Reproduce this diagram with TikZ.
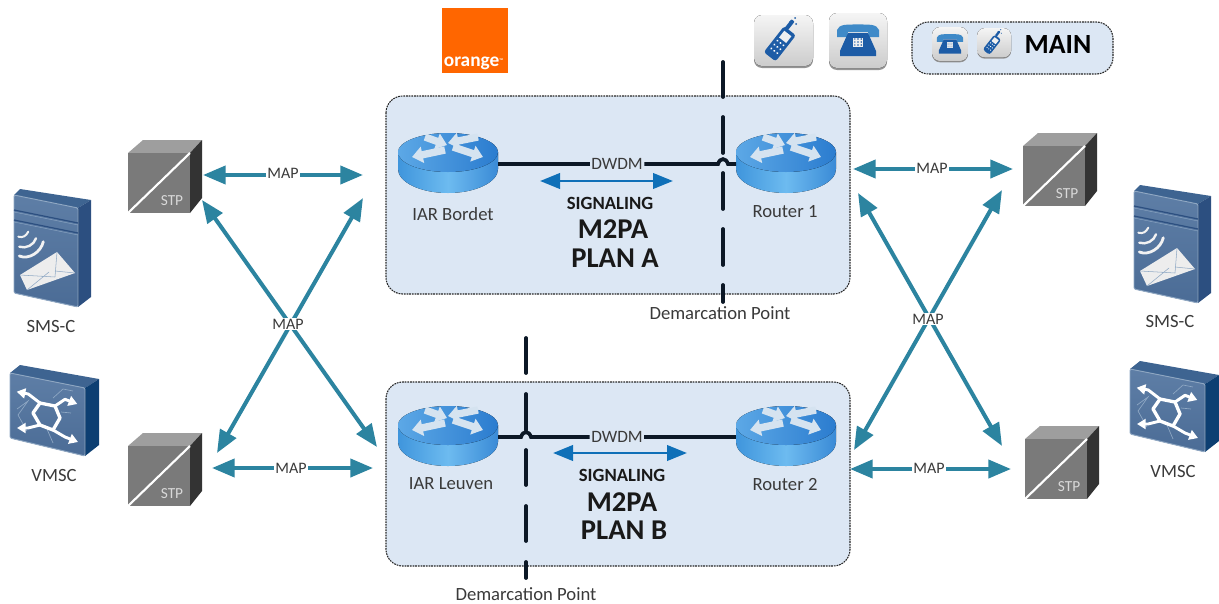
\documentclass[tikz,border=0pt]{standalone}
\usepackage{fontspec}
\setmainfont{Carlito}
\usetikzlibrary{arrows.meta}
\definecolor{panelblue}{HTML}{DCE7F4}
\definecolor{mapteal}{HTML}{2C84A0}
\definecolor{sigblue}{HTML}{0F70B8}
\definecolor{ink}{HTML}{0C1826}
\definecolor{lbl}{HTML}{3A3A3A}
\definecolor{phoneblue}{HTML}{1D5CA6}
\definecolor{devtop}{HTML}{3E6491}
\definecolor{devside}{HTML}{2C4F80}
\definecolor{vmside}{HTML}{0D3F72}
\definecolor{devfa}{HTML}{5E7EA6}
\definecolor{devfb}{HTML}{4B6C96}
\definecolor{devedge}{HTML}{8FA8C4}
\definecolor{routa}{HTML}{3F95DC}
\definecolor{routb}{HTML}{3A8AD6}
\definecolor{routc}{HTML}{6DBBF0}
\definecolor{routd}{HTML}{5CA8E6}
\definecolor{route}{HTML}{2B7CCF}
\definecolor{routf}{HTML}{D5E3F0}
\definecolor{handset}{HTML}{3F8AC8}
\definecolor{orangebrand}{HTML}{FF6600}
\newcommand{\fs}[1]{\fontsize{#1}{#1}\selectfont}
\tikzset{
  panel/.style={draw=black!85,line width=.8pt,dash pattern=on 1.3pt off .7pt,fill=panelblue,rounded corners=12.5pt},
  maparrow/.style={mapteal,line width=3pt,{Triangle[length=17pt,width=13.5pt]}-{Triangle[length=17pt,width=13.5pt]}},
  sigarrow/.style={sigblue,line width=2.2pt,{Triangle[length=15pt,width=11.5pt]}-{Triangle[length=15pt,width=11.5pt]}},
  demarc/.style={ink,line width=2.8pt,line cap=round},
  dwdmline/.style={ink,line width=2.8pt},
  maplabel/.style={fill=white,inner xsep=1pt,inner ysep=1pt,text=lbl,font=\fs{12}},
  dwdmlabel/.style={fill=panelblue,inner xsep=1pt,inner ysep=.5pt,text=lbl,font=\fs{13}},
  devlabel/.style={text=lbl,font=\fs{14},inner sep=0pt},
  siglabel/.style={text=black!90,font=\bfseries\fs{14},inner sep=0pt},
  planlabel/.style={text=black!90,font=\bfseries\fs{21.5},inner sep=0pt},
  tile/.style={top color=black!4,bottom color=black!20,rounded corners=6pt},
  stpicon/.pic={
    \fill[black!38] (0,13)--(15,0)--(74,0)--(62,13)--cycle;
    \fill[black!80] (62,13)--(74,0)--(74,58)--(62,73)--cycle;
    \fill[black!52] (0,13) rectangle (62,73);
    \draw[white,line width=1.6pt] (0,73)--(62,13);
    \node[text=black!15,font=\fs{11.5},inner sep=0pt] at (44,61) {STP};
  },
  smsicon/.pic={
    \fill[devtop] (1,6)--(7,0)--(78,11)--(65,19)--cycle;
    \fill[devside] (65,19)--(78,11)--(78,108)--(65,118)--cycle;
    \fill[top color=devfa,bottom color=devfb,draw=devedge,line width=.7pt,rounded corners=1pt] (1,6)--(65,19)--(65,118)--(1,104)--cycle;
    \draw[devside,line width=.9pt] (1,21)--(65,34) (1,31)--(65,44);
    \draw[devedge,line width=.3pt] (1,23)--(65,36) (1,33)--(65,46);
    \draw[black!5,line width=1.5pt,line cap=round] (5.3,47.7) .. controls (10,49) and (13,47) .. (15.3,42.7);
    \draw[black!5,line width=1.8pt,line cap=round] (6.3,57.7) .. controls (13,60) and (21,56) .. (23,49.3);
    \draw[black!5,line width=2.1pt,line cap=round] (6.3,67) .. controls (16,71) and (28,63) .. (30.3,52.7);
    \fill[black!7] (7,86)--(44,63)--(62,84)--(14,101)--cycle;
    \draw[devedge,line width=.4pt] (7,86)--(42,88) (44,63)--(42,88) (14,101)--(36,83) (62,84)--(42,82);
  },
  vmscicon/.pic={
    \fill[devtop] (1,8)--(11,0)--(90,14)--(76,23)--cycle;
    \fill[vmside] (76,23)--(90,14)--(90,80)--(76,91)--cycle;
    \fill[top color=devfa,bottom color=devfb,draw=devedge,line width=.7pt,rounded corners=1pt] (1,8)--(76,23)--(76,91)--(1,73)--cycle;
    \draw[devedge,line width=.5pt] (44,33)--(54,24)--(64,26) (8,44)--(19,36)--(9,50)--(18,66) (38,64)--(44,78) (52,47)--(62,48);
    \draw[white,line width=2.5pt,line join=round] (24,48)--(31,38)--(46,41)--(51,53)--(44,65)--(31,60)--cycle;
    \tikzset{whitearrow/.style={white,line width=2.2pt,line join=round,-{Triangle[length=6.5pt,width=7.5pt]}}}
    \draw[whitearrow] (31,38)--(19.3,29)--(7.7,26.7);
    \draw[whitearrow] (46,41)--(56,34.3)--(68.3,39);
    \draw[whitearrow] (31,60)--(19,63)--(8,63);
    \draw[whitearrow] (44,65)--(56,72)--(69,77);
  },
  routericon/.pic={
    \fill[left color=routa,right color=routb,middle color=routc] (0,19) -- (0,36) .. controls (0,49) and (22,60) .. (50,60) .. controls (78,60) and (100,49) .. (100,36) -- (100,19) -- cycle;
    \fill[left color=routd,right color=route] (0,19) .. controls (0,9) and (22,0) .. (50,0) .. controls (78,0) and (100,9) .. (100,19) .. controls (100,30) and (78,39) .. (50,39) .. controls (22,39) and (0,30) .. (0,19) -- cycle;
    \tikzset{pale/.style={routf,line width=5.5pt,-{Triangle[length=8pt,width=12pt]}}}
    \draw[pale] (27,4)--(49,12);
    \draw[pale] (47,17)--(14,24);
    \draw[pale] (80,4)--(50,10);
    \draw[pale] (55,14)--(85,24);
    \coordinate (-e) at (100,31);
    \coordinate (-w) at (0,31);
  },
  mobileicon/.pic={
    \fill[black!42,rounded corners=6pt] (0,2) rectangle (59,53);
    \fill[tile] (0,0) rectangle (59,51);
    \begin{scope}[shift={(28,26)},rotate=-38]
      \fill[phoneblue,rounded corners=2pt] (-7.5,-13)--(7.5,-13)--(7.5,20)--(-7.5,20)--cycle;
      \fill[phoneblue,rounded corners=.6pt] (-6,-23)--(-2,-23)--(-2,-12)--(-6,-12)--cycle;
      \fill[black!6] (-4.5,-9.5) rectangle (4.5,-1);
      \foreach \r in {2.5,7.5,12.5}\foreach \c in {-3.8,0,3.8}{\fill[white] (\c,\r) circle[radius=1.1];}
    \end{scope}
    \fill[phoneblue] (36,7) circle[radius=1] (41,3) circle[radius=1] (42,9) circle[radius=1];
  },
  deskicon/.pic={
    \fill[black!42,rounded corners=6pt] (0,2) rectangle (58,57);
    \fill[tile] (0,0) rectangle (58,55);
    \fill[handset] (8,17) .. controls (10,11) and (18,11.5) .. (29,11.5) .. controls (40,11.5) and (48,11) .. (50,17) -- (50,24) -- (40,24) -- (39,19) -- (19,19) -- (18,24) -- (8,24) --cycle;
    \fill[phoneblue] (19,20)--(39,20)--(47,38)--(47,43)--(11,43)--(11,38)--cycle;
    \fill[black!6] (24,24.5) rectangle (34,33.5);
    \foreach \r in {26,29,32}\foreach \c in {25.8,29,32.2}{\fill[phoneblue] (\c,\r) circle[radius=.8];}
  },
}
\begin{document}
\begin{tikzpicture}[x=.75pt,y=-.75pt,>=Triangle]
\useasboundingbox (0,0) rectangle (1219,603);
\fill[white] (0,0) rectangle (1219,603);

% panels
\path[panel] (386,96) rectangle (850,294);
\path[panel] (386,382) rectangle (850,566);
\path[panel] (912,22) rectangle (1113,74);

% demarcation lines
\draw[demarc] (723,62)--(723,97) (723,117)--(723,153) (723,173)--(723,209) (723,229)--(723,265) (723,285)--(723,302);
\draw[demarc] (526,338)--(526,373) (526,394)--(526,430) (526,450)--(526,485) (526,506)--(526,541) (526,562)--(526,578);

% orange logo
\fill[orangebrand] (442,8) rectangle (508,73);
\node[text=white,font=\bfseries\fs{14.5},inner sep=0pt] (orangelogo) at (473.5,63) {orange\raisebox{3pt}{\fs{4}™}};

% icons
\pic at (754,15) {mobileicon};
\pic at (829,13) {deskicon};
\pic[scale=.62] at (932,27) {deskicon};
\pic[scale=.58] at (977,28) {mobileicon};
\node[text=black,font=\bfseries\fs{20.8},inner sep=0pt] (mainlabel) at (1058,45) {MAIN};

% routers
\pic (bordet) at (398,133) {routericon};
\pic (router1) at (736,133) {routericon};
\pic (leuven) at (398,406) {routericon};
\pic (router2) at (736,406) {routericon};

% DWDM
\node[dwdmlabel] (dwdmA) at (617,164) {DWDM};
\node[dwdmlabel] (dwdmB) at (617,437) {DWDM};
\coordinate (hopAl) at (718,164);
\coordinate (hopAr) at (728,164);
\coordinate (hopBl) at (521,437);
\coordinate (hopBr) at (531,437);
\draw[dwdmline] (bordet-e) -- (dwdmA);
\draw[dwdmline] (dwdmA) -- (hopAl) .. controls (720,157.5) and (726,157.5) .. (hopAr) -- (router1-w);
\draw[dwdmline] (leuven-e) -- (hopBl) .. controls (523,430.5) and (529,430.5) .. (hopBr) -- (dwdmB);
\draw[dwdmline] (dwdmB) -- (router2-w);

% signaling
\coordinate (sigAl) at (540,181);
\coordinate (sigAr) at (673,181);
\coordinate (sigBl) at (553,453);
\coordinate (sigBr) at (687,453);
\draw[sigarrow] (sigAl) -- (sigAr);
\draw[sigarrow] (sigBl) -- (sigBr);
\node[siglabel] (sA) at (610,203) {SIGNALING};
\node[planlabel] (mA) at (613,229) {M2PA};
\node[planlabel] (pA) at (615,258) {PLAN A};
\node[siglabel] (sB) at (622,475) {SIGNALING};
\node[planlabel] (mB) at (622,502) {M2PA};
\node[planlabel] (pB) at (624,530) {PLAN B};

% device labels
\node[devlabel] (lbor) at (453,214) {IAR Bordet};
\node[devlabel] (lr1) at (785,212) {Router 1};
\node[devlabel] (lleu) at (451,484) {IAR Leuven};
\node[devlabel] (lr2) at (785,485) {Router 2};
\node[devlabel] (dmA) at (720,313) {Demarcation Point};
\node[devlabel] (dmB) at (526,594) {Demarcation Point};

% STP
\pic at (128,140) {stpicon};
\pic at (128,433) {stpicon};
\pic at (1023,133) {stpicon};
\pic at (1025,426) {stpicon};

% SMS-C / VMSC
\pic at (13,189) {smsicon};
\pic at (1133,185) {smsicon};
\pic at (9,365) {vmscicon};
\pic at (1129,361) {vmscicon};
\node[devlabel] (ls1) at (51,327) {SMS-C};
\node[devlabel] (lv1) at (54,475) {VMSC};
\node[devlabel] (ls2) at (1170,322) {SMS-C};
\node[devlabel] (lv2) at (1173,471) {VMSC};

% left arrows
\coordinate (a1) at (203,175); \coordinate (a2) at (363,175);
\coordinate (a3) at (212,468); \coordinate (a4) at (373,468);
\coordinate (a5) at (202,200); \coordinate (a6) at (377,447);
\coordinate (a7) at (363,198); \coordinate (a8) at (217,453);
\draw[maparrow] (a1) -- (a2);
\draw[maparrow] (a3) -- (a4);
\draw[maparrow] (a5) -- (a6);
\draw[maparrow] (a7) -- (a8);
\node[maplabel] (m1) at (283,173) {MAP};
\node[maplabel] (m2) at (291,468) {MAP};
\node[maplabel] (m3) at (288,324) {MAP};

% right arrows
\coordinate (b1) at (853,169); \coordinate (b2) at (1013,169);
\coordinate (b3) at (850,469); \coordinate (b4) at (1011,469);
\coordinate (b5) at (858,193); \coordinate (b6) at (1002,446);
\coordinate (b7) at (1002,190); \coordinate (b8) at (854,450);
\draw[maparrow] (b1) -- (b2);
\draw[maparrow] (b3) -- (b4);
\draw[maparrow] (b5) -- (b6);
\draw[maparrow] (b7) -- (b8);
\node[maplabel] (m4) at (932,168) {MAP};
\node[maplabel] (m5) at (929,468) {MAP};
\node[maplabel] (m6) at (928,319) {MAP};
\end{tikzpicture}
\end{document}
